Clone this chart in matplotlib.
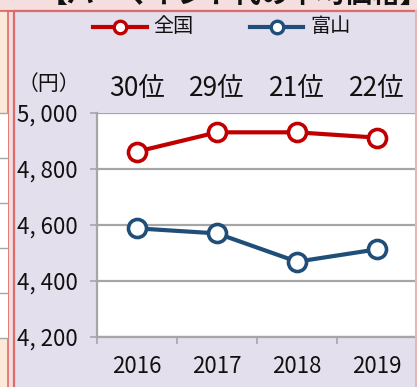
import matplotlib
matplotlib.use("Agg")
import matplotlib.pyplot as plt
from matplotlib.patches import Rectangle
from matplotlib.lines import Line2D

plt.rcParams['font.family'] = ['Noto Sans CJK JP', 'DejaVu Sans']

# data
years = ['2016', '2017', '2018', '2019']
ranks = ['30位', '29位', '21位', '22位']
zenkoku = [4862, 4931, 4931, 4912]
toyama = [4588, 4570, 4469, 4513]
series_names = ['全国', '富山']
series_colors = ['#c00000', '#1f4e79']
yticks = [4200, 4400, 4600, 4800, 5000]
ytick_labels = ['4, 200', '4, 400', '4, 600', '4, 800', '5, 000']

W, H = 417, 387
PINK = '#f4dede'
BORDER = '#dc6b6b'
LAVENDER = '#e4dfec'
PEACH = '#fde9d9'
GRAY = '#a6a6a6'


def fx(px):
  return px / W


def fy(py):
  return 1 - py / H


def add_rect(fig, x0, y0, x1, y1, face, edge='none', lw=0, z=-2):
  r = Rectangle((fx(x0), fy(y1)), (x1 - x0) / W, (y1 - y0) / H,
                transform=fig.transFigure, facecolor=face, edgecolor=edge,
                linewidth=lw, zorder=z)
  fig.add_artist(r)


def add_line(fig, xs, ys, color, lw, z=-1, **kw):
  fig.add_artist(Line2D([fx(v) for v in xs], [fy(v) for v in ys],
                        transform=fig.transFigure, color=color, linewidth=lw,
                        zorder=z, **kw))


fig = plt.figure(figsize=(W / 100, H / 100), dpi=100)
fig.patch.set_facecolor(PINK)

# title strip at top (runs off the top edge)
fig.text(fx(40), fy(3), '【パーマネント代の平均価格】', fontsize=20,
         fontweight='bold', color='#111111', va='baseline', ha='left', zorder=-3)
add_line(fig, [0, W], [10.5, 10.5], BORDER, 1.5, z=-2)

# neighbouring table on the left
add_rect(fig, -5, 11, 8, 400, PEACH, BORDER, 1.2)
add_rect(fig, 0, 113, 7.5, 338, 'white', z=-1)
for yy in [113, 158, 203, 248, 293, 338]:
  add_line(fig, [0, 7.5], [yy, yy], GRAY, 1.0, z=-1)

# chart panel
add_rect(fig, 14, 11.5, 430, 400, LAVENDER, BORDER, 1.6)
add_line(fig, [415.8, 415.8], [11, H], '#e8b4b4', 1.5, z=5)

ax = fig.add_axes([fx(97), fy(337), (417 - 97) / W, (337 - 113) / H])
ax.set_facecolor('white')
x = list(range(len(years)))

ax.set_xlim(-0.5, len(years) - 0.5)
ax.set_ylim(4200, 5000)
ax.set_yticks(yticks)
ax.set_yticklabels(ytick_labels)
ax.set_xticks(x)
ax.set_xticklabels(years)
ax.set_xticks([i - 0.5 for i in range(len(years) + 1)], minor=True)
ax.grid(axis='y', color=GRAY, linewidth=1.6)
ax.set_axisbelow(True)
for s in ['top', 'right']:
  ax.spines[s].set_visible(False)
for s in ['left', 'bottom']:
  ax.spines[s].set_color(GRAY)
  ax.spines[s].set_linewidth(1.6)
ax.tick_params(axis='y', length=5, width=1.2, color=GRAY, pad=9,
               labelsize=16, labelcolor='#111111')
ax.tick_params(axis='x', which='major', length=0, pad=13,
               labelsize=16, labelcolor='#111111')
ax.tick_params(axis='x', which='minor', length=5, width=1.2, color=GRAY)

for vals, col in zip([zenkoku, toyama], series_colors):
  ax.plot(x, vals, color=col, linewidth=3, marker='o', markersize=13,
          markerfacecolor='white', markeredgecolor=col, markeredgewidth=2.6,
          clip_on=False, zorder=3)

# ranking labels above the plot
rank_y = 1 + (113 - 89) / (337 - 113)
for i, r in enumerate(ranks):
  ax.text(i, rank_y, r, transform=ax.get_xaxis_transform(),
          fontsize=19, ha='center', va='center', color='#111111')

fig.text(fx(18), fy(84), '（円）', fontsize=15, ha='left', va='center',
         color='#111111')

# legend
legend_pos = [(93, 147, 153), (250, 303, 310)]
for name, col, (l0, l1, tx) in zip(series_names, series_colors, legend_pos):
  add_line(fig, [l0, l1], [27, 27], col, 3, z=2)
  add_line(fig, [(l0 + l1) / 2], [27], col, 0, z=3, marker='o', markersize=9,
           markerfacecolor='white', markeredgecolor=col, markeredgewidth=2.4)
  fig.text(fx(tx), fy(27), name, fontsize=14.5, ha='left', va='center',
           color='#111111')

fig.savefig('out.png', dpi=100, facecolor=fig.get_facecolor())
